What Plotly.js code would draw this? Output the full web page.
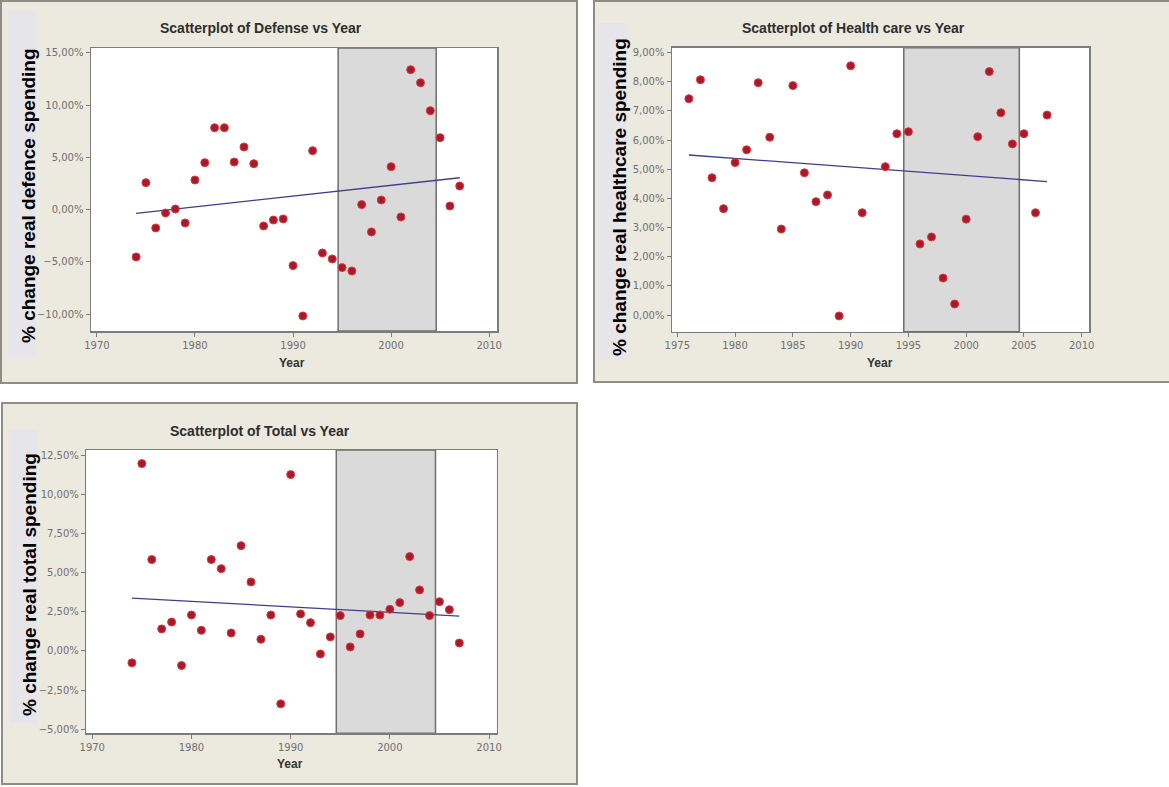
<!DOCTYPE html>
<html>
<head>
<meta charset="utf-8">
<script src="https://cdn.plot.ly/plotly-3.0.1.min.js"></script>
<style>html,body{margin:0;padding:0;background:#fff;}#chart{width:1169px;height:787px;}</style>
</head>
<body>
<div id="chart"></div>
<script>
// ---- Data ----
var defenseYears = [1974,1975,1976,1977,1978,1979,1980,1981,1982,1983,1984,1985,1986,1987,1988,1989,1990,1991,1992,1993,1994,1995,1996,1997,1998,1999,2000,2001,2002,2003,2004,2005,2006,2007];
var defenseValues = [-4.52,2.58,-1.75,-0.32,0.06,-1.27,2.83,4.49,7.83,7.83,4.55,5.99,4.39,-1.56,-0.99,-0.89,-5.35,-10.16,5.64,-4.14,-4.71,-5.54,-5.86,0.48,-2.13,0.92,4.11,-0.70,13.38,12.13,9.46,6.88,0.35,2.26];
var defenseTrendYears = [1974, 2007];
var defenseTrend = [-0.35, 3.05];

var healthYears = [1976,1977,1978,1979,1980,1981,1982,1983,1984,1985,1986,1987,1988,1989,1990,1991,1993,1994,1995,1996,1997,1998,1999,2000,2001,2002,2003,2004,2005,2006,2007];
var healthValues = [7.42,8.07,4.71,3.65,5.23,5.67,7.97,6.10,2.95,7.87,4.88,3.89,4.12,-0.03,8.55,3.51,5.09,6.22,6.29,2.44,2.68,1.27,0.38,3.29,6.12,8.35,6.94,5.87,6.22,3.51,6.86];
var healthTrendYears = [1976, 2007];
var healthTrend = [5.49, 4.58];

var totalYears = [1974,1975,1976,1977,1978,1979,1980,1981,1982,1983,1984,1985,1986,1987,1988,1989,1990,1991,1992,1993,1994,1995,1996,1997,1998,1999,2000,2001,2002,2003,2004,2005,2006,2007];
var totalValues = [-0.76,11.97,5.84,1.41,1.85,-0.93,2.30,1.32,5.84,5.26,1.15,6.73,4.41,0.75,2.30,-3.38,11.27,2.37,1.81,-0.19,0.90,2.26,0.26,1.09,2.30,2.30,2.66,3.09,6.03,3.90,2.26,3.15,2.64,0.51];
var totalTrendYears = [1974, 2007];
var totalTrend = [3.38, 2.22];

var shadeStart = 1994.6;
var shadeEnd = 2004.6;

var chartTitles = ["Scatterplot of Defense vs Year", "Scatterplot of Health care vs Year", "Scatterplot of Total vs Year"];
var yTitles = ["% change real defence spending", "% change real healthcare spending", "% change real total spending"];
var xTitle = "Year";

// ---- Styling helpers ----
var W = 1169, H = 787;
function px(x){ return x / W; }
function py(y){ return 1 - y / H; }

var markerStyle = {size: 8, color: '#a51a2c', line: {color: '#e2383c', width: 1}};
var trendStyle = {color: '#3e3e8e', width: 1.3};

function scatter(x, y, xa, ya){
  return {type:'scatter', mode:'markers', x:x, y:y, xaxis:xa, yaxis:ya, marker:markerStyle, hoverinfo:'x+y', showlegend:false};
}
function trend(x, y, xa, ya){
  return {type:'scatter', mode:'lines', x:x, y:y, xaxis:xa, yaxis:ya, line:trendStyle, hoverinfo:'skip', showlegend:false};
}

var data = [
  trend(defenseTrendYears, defenseTrend, 'x', 'y'),
  scatter(defenseYears, defenseValues, 'x', 'y'),
  trend(healthTrendYears, healthTrend, 'x2', 'y2'),
  scatter(healthYears, healthValues, 'x2', 'y2'),
  trend(totalTrendYears, totalTrend, 'x3', 'y3'),
  scatter(totalYears, totalValues, 'x3', 'y3')
];

var tickFont = {family: 'DejaVu Sans, sans-serif', size: 10, color: '#707070'};
function axis(domain, range, dtick, tick0, anchor, isY){
  var a = {
    domain: domain, range: range, dtick: dtick, tick0: tick0, anchor: anchor,
    showgrid: false, zeroline: false, showline: true, mirror: true,
    linecolor: '#7c7c7c', linewidth: 1.5,
    ticks: 'outside', ticklen: 4, tickcolor: '#7c7c7c', tickwidth: 1,
    tickfont: tickFont, fixedrange: true
  };
  if (isY) { a.tickformat = '.2f'; a.ticksuffix = '%'; }
  else { a.tickformat = 'd'; }
  return a;
}

var panels = [
  {xd:[px(91), px(497)], yd:[py(331), py(48)]},
  {xd:[px(672), px(1089)], yd:[py(331.7), py(47.7)]},
  {xd:[px(86.3), px(496.7)], yd:[py(733.3), py(450)]}
];

var shapes = [];
// panel frames
var frames = [[1,1,577,383],[594,1,1172,382],[2,403,577,784]];
frames.forEach(function(f){
  shapes.push({type:'rect', xref:'paper', yref:'paper', x0:px(f[0]), x1:px(f[2]), y0:py(f[3]), y1:py(f[1]),
    fillcolor:'#ece9df', line:{color:'#8e8c84', width:2}, layer:'below'});
});
// grey label boxes
var boxes = [[8,10,36,357],[598,23,627,360],[10,430,37,723]];
boxes.forEach(function(b){
  shapes.push({type:'rect', xref:'paper', yref:'paper', x0:px(b[0]), x1:px(b[2]), y0:py(b[3]), y1:py(b[1]),
    fillcolor:'#e6e6ea', line:{width:0}, layer:'below'});
});
// white plot areas + shaded band
['','2','3'].forEach(function(s){
  shapes.push({type:'rect', xref:'x'+s+' domain', yref:'y'+s+' domain', x0:0, x1:1, y0:0, y1:1,
    fillcolor:'#ffffff', line:{width:0}, layer:'below'});
  shapes.push({type:'rect', xref:'x'+s, yref:'y'+s+' domain', x0:shadeStart, x1:shadeEnd, y0:0, y1:1,
    fillcolor:'#dadada', line:{color:'#6e6e6e', width:1.5}, layer:'below'});
});

var titleFont = {family:'Liberation Sans, Arial, sans-serif', size:14, color:'#2e2e2e'};
var yTitleFont = {family:'Liberation Sans, Arial, sans-serif', size:19, color:'#000000'};
var xTitleFont = {family:'Liberation Sans, Arial, sans-serif', size:12, color:'#333333'};

function ann(text, x, y, font, angle){
  return {text:'<b>'+text+'</b>', xref:'paper', yref:'paper', x:px(x), y:py(y), xanchor:'center', yanchor:'middle',
    showarrow:false, font:font, textangle: angle || 0};
}
var annotations = [
  ann(chartTitles[0], 261, 28, titleFont),
  ann(chartTitles[1], 853, 28, titleFont),
  ann(chartTitles[2], 260, 431, titleFont),
  ann(xTitle, 292, 363, xTitleFont),
  ann(xTitle, 880, 363, xTitleFont),
  ann(xTitle, 290, 764, xTitleFont),
  ann(yTitles[0], 28, 196, yTitleFont, -90),
  ann(yTitles[1], 619, 197, yTitleFont, -90),
  ann(yTitles[2], 29, 585, yTitleFont, -90)
];

var layout = {
  width: W, height: H,
  margin: {l:0, r:0, t:0, b:0},
  paper_bgcolor: '#ffffff',
  plot_bgcolor: 'rgba(0,0,0,0)',
  separators: ',.',
  showlegend: false,
  xaxis: axis(panels[0].xd, [1969.4, 2010.8], 10, 1970, 'y', false),
  yaxis: axis(panels[0].yd, [-11.6, 15.45], 5, 0, 'x', true),
  xaxis2: axis(panels[1].xd, [1974.54, 2010.63], 5, 1975, 'y2', false),
  yaxis2: axis(panels[1].yd, [-0.57, 9.17], 1, 0, 'x2', true),
  xaxis3: axis(panels[2].xd, [1969.4, 2010.77], 10, 1970, 'y3', false),
  yaxis3: axis(panels[2].yd, [-5.26, 12.84], 2.5, 0, 'x3', true),
  shapes: shapes,
  annotations: annotations
};

Plotly.newPlot('chart', data, layout, {displayModeBar:false, staticPlot:true});
</script>
</body>
</html>
